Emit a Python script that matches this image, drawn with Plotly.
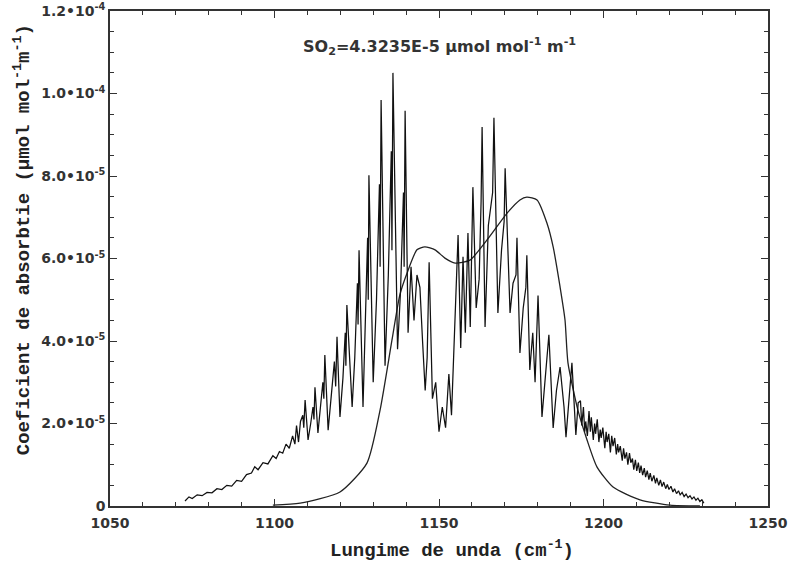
import numpy as np
import plotly.graph_objects as go

# Measured SO2 absorption spectrum (wavenumber in cm^-1, coefficient in units of 1e-5)
spec_wn = [
    # low-wavenumber wing
    1072.8, 1074.0, 1075.0, 1076.5, 1078.0, 1079.5, 1081.0, 1082.5, 1084.0, 1085.5,
    1087.0, 1088.5, 1090.0, 1091.5, 1093.0, 1094.0, 1095.0, 1096.5, 1098.0, 1099.5,
    1100.5, 1101.5, 1102.5, 1103.5, 1104.5, 1105.5, 1106.2, 1106.7, 1107.3, 1107.9,
    # P branch
    1108.6, 1108.9, 1109.3, 1110.2, 1111.0, 1111.7, 1112.0, 1112.3, 1113.2, 1114.0,
    1114.7, 1115.0, 1115.3, 1116.3, 1117.2, 1118.2, 1118.6, 1119.0, 1119.9, 1120.8,
    1121.5, 1121.7, 1122.0, 1123.6, 1124.4, 1125.2, 1125.4, 1125.7, 1126.9, 1127.6,
    1128.3, 1128.5, 1128.7, 1130.0, 1131.0, 1131.9, 1132.1, 1132.4, 1133.6, 1134.6,
    1135.5, 1135.7, 1136.0, 1137.4, 1138.3, 1139.2, 1139.4, 1139.7, 1140.6, 1141.5,
    1142.4, 1143.3, 1144.2, 1145.0, 1145.8, 1146.4, 1147.0, 1148.0, 1149.0, 1150.0,
    1151.0, 1152.0, 1153.0, 1153.8, 1154.6,
    # R branch
    1155.8, 1156.6, 1157.3, 1158.0, 1158.8, 1159.5, 1160.0, 1160.3, 1161.3, 1162.2,
    1162.8, 1163.1, 1164.0, 1165.0, 1166.3, 1166.7, 1167.9, 1169.0, 1169.8, 1170.1,
    1171.6, 1172.5, 1173.4, 1173.7, 1174.6, 1175.6, 1176.4, 1176.7, 1177.6, 1178.5,
    1179.2, 1180.1, 1181.3, 1182.3, 1183.4, 1184.7, 1185.7, 1186.8, 1188.0, 1188.6,
    1189.5, 1190.4, 1191.6, 1192.3,
    # high-wavenumber wing
    1193.0, 1193.4, 1193.9, 1194.3, 1194.6, 1195.1, 1195.6, 1196.0, 1196.3, 1196.9,
    1197.3, 1197.6, 1198.1, 1198.6, 1199.0, 1199.3, 1199.8, 1200.4, 1200.8, 1201.1,
    1201.6, 1202.1, 1202.5, 1202.9, 1203.4, 1203.9, 1204.3, 1204.6, 1205.1, 1205.7,
    1206.1, 1206.5, 1207.0, 1207.4, 1207.9, 1208.3, 1208.8, 1209.2, 1209.7, 1210.1,
    1210.6, 1211.0, 1211.4, 1211.9, 1212.4, 1212.8, 1213.3, 1213.8, 1214.2, 1214.7,
    1215.3, 1215.8, 1216.2, 1216.8, 1217.3, 1217.8, 1218.3, 1218.9, 1219.4, 1219.9,
    1220.5, 1221.1, 1221.6, 1222.2, 1222.8, 1223.3, 1223.9, 1224.5, 1225.1, 1225.7,
    1226.3, 1226.9, 1227.5, 1228.1, 1228.7, 1229.3, 1229.9, 1230.5,
]
spec_abs = [
    0.12, 0.22, 0.18, 0.27, 0.25, 0.33, 0.32, 0.42, 0.40, 0.50,
    0.48, 0.62, 0.60, 0.76, 0.80, 0.95, 0.88, 1.05, 1.02, 1.22,
    1.15, 1.32, 1.28, 1.50, 1.40, 1.70, 1.50, 1.95, 1.55, 2.05,
    2.20, 1.90, 2.57, 1.60, 2.00, 2.40, 2.10, 2.88, 1.77, 2.40,
    3.00, 2.60, 3.66, 1.84, 2.70, 3.50, 2.90, 4.10, 2.16, 3.10,
    4.20, 3.40, 4.87, 2.40, 3.60, 5.40, 4.40, 6.20, 2.40, 4.20,
    6.50, 5.00, 8.02, 3.00, 5.00, 7.80, 5.80, 9.84, 3.40, 5.60,
    8.60, 6.20, 10.50, 3.80, 5.20, 7.60, 5.80, 9.58, 4.20, 5.80,
    4.50, 5.60, 5.30, 4.00, 2.80, 3.60, 5.91, 2.60, 3.00, 1.80,
    2.40, 1.90, 3.20, 2.20, 4.00,
    6.57, 3.83, 6.04, 4.20, 6.62, 4.34, 6.30, 7.73, 4.80, 5.50,
    7.40, 9.19, 4.34, 6.80, 7.60, 9.41, 4.68, 6.20, 6.90, 8.19,
    4.68, 5.40, 5.60, 6.50, 3.71, 4.80, 5.30, 6.08, 3.30, 4.20,
    3.00, 5.10, 2.16, 3.20, 4.15, 1.89, 2.80, 3.37, 2.40, 1.67,
    2.60, 3.47, 1.72, 2.50,
    2.55, 1.95, 2.40, 1.80, 2.05, 1.70, 2.30, 1.80, 2.15, 1.60,
    2.00, 1.75, 2.10, 1.55, 1.85, 1.65, 1.90, 1.40, 1.80, 1.55,
    1.75, 1.30, 1.70, 1.45, 1.65, 1.25, 1.50, 1.30, 1.45, 1.10,
    1.40, 1.15, 1.30, 1.00, 1.28, 1.05, 1.15, 0.88, 1.12, 0.85,
    1.05, 0.80, 0.98, 0.75, 0.92, 0.70, 0.86, 0.64, 0.80, 0.60,
    0.74, 0.55, 0.68, 0.50, 0.63, 0.47, 0.58, 0.42, 0.52, 0.40,
    0.48, 0.34, 0.42, 0.30, 0.37, 0.27, 0.33, 0.23, 0.29, 0.20,
    0.25, 0.17, 0.22, 0.14, 0.19, 0.11, 0.15, 0.07,
]

# Smoothed (low-resolution) band profile
band_wn = [
    1099.5, 1107.8, 1119.9, 1128.1, 1132.1, 1135.7, 1138.1, 1140.3, 1143.3, 1145.7,
    1148.8, 1151.8, 1154.9, 1159.4, 1164.6, 1170.7, 1174.6, 1176.7, 1179.8, 1182.8,
    1184.7, 1186.8, 1188.3, 1189.2, 1192.2, 1195.0, 1198.0, 1202.9, 1211.1, 1220.2,
    1229.3,
]
band_abs = [
    0.02, 0.07, 0.34, 1.04, 2.33, 4.02, 5.12, 5.65, 6.21, 6.28,
    6.21, 6.01, 5.89, 5.96, 6.45, 7.10, 7.42, 7.49, 7.42, 6.86,
    6.28, 5.31, 4.51, 3.47, 2.33, 1.60, 0.95, 0.46, 0.15, 0.02,
    0.00,
]

y_ticks = [0, 2e-5, 4e-5, 6e-5, 8e-5, 1.0e-4, 1.2e-4]
y_tick_text = [
    "0",
    "2.0\u202210<sup>-5</sup>",
    "4.0\u202210<sup>-5</sup>",
    "6.0\u202210<sup>-5</sup>",
    "8.0\u202210<sup>-5</sup>",
    "1.0\u202210<sup>-4</sup>",
    "1.2\u202210<sup>-4</sup>",
]
x_ticks = [1050, 1100, 1150, 1200, 1250]

scale = 1e-5
fig = go.Figure()
fig.add_trace(go.Scatter(
    x=band_wn, y=np.array(band_abs) * scale, mode="lines",
    line=dict(color="#222222", width=1.3, shape="spline", smoothing=0.6),
    showlegend=False,
))
fig.add_trace(go.Scatter(
    x=spec_wn, y=np.array(spec_abs) * scale, mode="lines",
    line=dict(color="#111111", width=1.25),
    showlegend=False,
))

axis_common = dict(
    showline=True, linecolor="#333333", linewidth=1.5, mirror="ticks",
    ticks="inside", tickcolor="#333333", tickwidth=1.3, ticklen=7,
    showgrid=False, zeroline=False, automargin=False,
    tickfont=dict(family="DejaVu Sans", size=14, color="#333333", weight="bold"),
)

fig.update_xaxes(
    range=[1050, 1250], tickvals=x_ticks, ticklabelstandoff=3,
    minor=dict(dtick=10, ticks="inside", ticklen=4, tickcolor="#333333", tickwidth=1.2),
    **axis_common,
)
fig.update_yaxes(
    range=[0, 1.2e-4], tickvals=y_ticks, ticktext=y_tick_text,
    minor=dict(dtick=5e-6, ticks="inside", ticklen=4, tickcolor="#333333", tickwidth=1.2),
    **axis_common,
)

mono = dict(family="Liberation Mono", size=19, color="#222222", weight="bold")
fig.update_layout(
    width=788, height=562,
    margin=dict(l=110, r=20, t=11, b=56),
    paper_bgcolor="white", plot_bgcolor="white",
    annotations=[
        dict(text="SO<sub>2</sub>=4.3235E-5 \u00b5mol mol<sup>-1</sup> m<sup>-1</sup>",
             xref="paper", yref="paper", x=0.5, y=1, yshift=-35,
             xanchor="center", yanchor="middle", showarrow=False,
             font=dict(family="DejaVu Sans", size=16, color="#333333", weight="bold")),
        dict(text="Lungime de unda (cm<sup>-1</sup>)",
             xref="paper", yref="paper", x=0.52, y=0, yshift=-43,
             xanchor="center", yanchor="middle", showarrow=False, font=mono),
        dict(text="Coeficient de absorbtie (\u00b5mol mol<sup>-1</sup>m<sup>-1</sup>)",
             xref="paper", yref="paper", x=0, xshift=-88, y=0.537,
             xanchor="center", yanchor="middle", textangle=-90,
             showarrow=False, font=mono),
    ],
)

fig.write_html("out.html")
